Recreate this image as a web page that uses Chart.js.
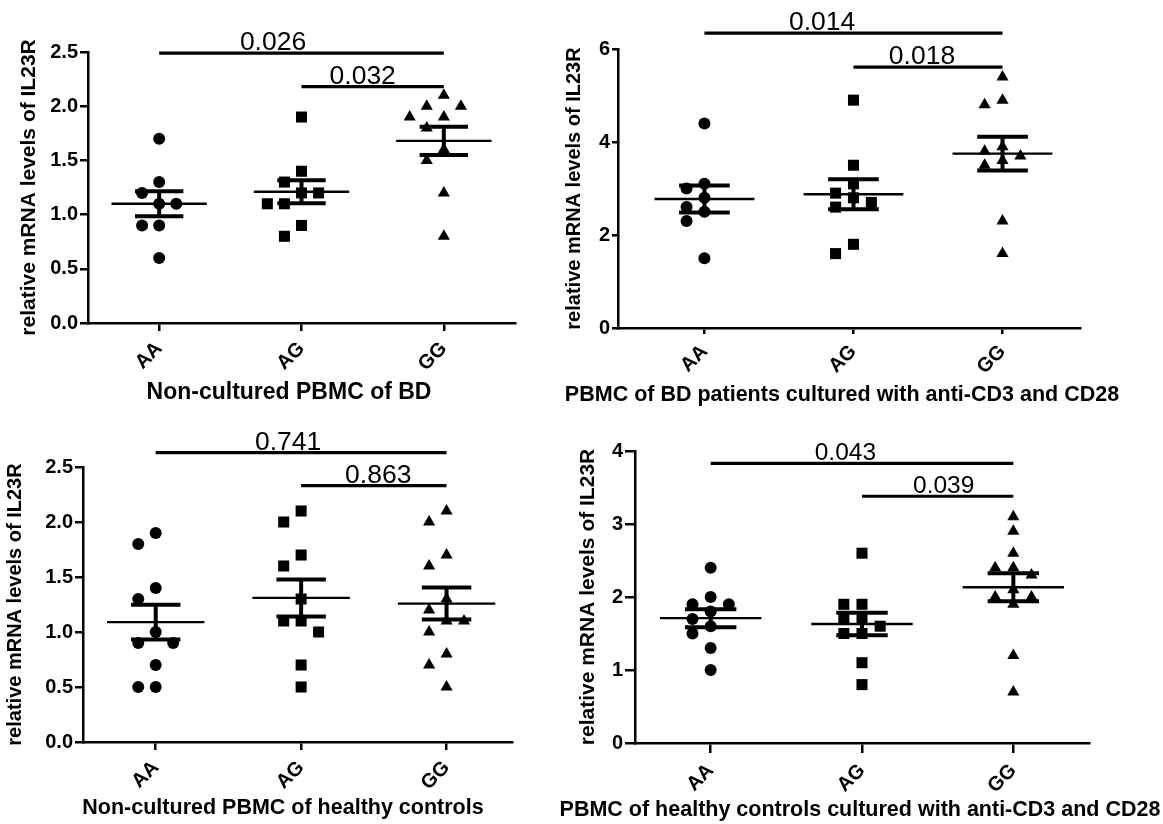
<!DOCTYPE html>
<html>
<head>
<meta charset="utf-8">
<title>IL23R mRNA by genotype</title>
<script src="https://cdn.jsdelivr.net/npm/chart.js@4.4.1/dist/chart.umd.min.js"></script>
<style>
  html, body { margin: 0; padding: 0; background: #fff; }
  body { width: 1163px; height: 824px; position: relative; overflow: hidden; }
  canvas { position: absolute; }
</style>
</head>
<body>
<canvas id="bdFresh" width="560" height="410" style="left:0;top:0"></canvas>
<canvas id="bdStim" width="603" height="410" style="left:560px;top:0"></canvas>
<canvas id="hcFresh" width="560" height="414" style="left:0;top:410px"></canvas>
<canvas id="hcStim" width="603" height="414" style="left:560px;top:410px"></canvas>
<script>
// ===== DATA =====
const genotypes = ['AA', 'AG', 'GG'];

// non-cultured PBMC of BD
const bdFreshAA = [1.7, 1.3, 1.2, 1.1, 1.1, 0.9, 0.9, 0.6];
const bdFreshAG = [1.9, 1.4, 1.3, 1.2, 1.2, 1.1, 1.1, 0.9, 0.8];
const bdFreshGG = [2.1, 2.0, 2.0, 1.9, 1.9, 1.8, 1.6, 1.5, 1.2, 0.8];
const bdFreshP = ['0.026', '0.032'];
const bdFreshTicks = ['0.0', '0.5', '1.0', '1.5', '2.0', '2.5'];

// PBMC of BD patients, anti-CD3/CD28
const bdStimAA = [4.4, 3.1, 3.0, 2.8, 2.6, 2.5, 2.3, 1.5];
const bdStimAG = [4.9, 3.5, 3.1, 2.9, 2.8, 2.7, 2.6, 1.8, 1.6];
const bdStimGG = [5.4, 4.9, 4.8, 3.9, 3.8, 3.7, 3.6, 3.5, 2.3, 1.6];
const bdStimP = ['0.014', '0.018'];
const bdStimTicks = ['0', '2', '4', '6'];

// non-cultured PBMC of healthy controls
const hcFreshAA = [1.9, 1.8, 1.4, 1.3, 1.0, 0.9, 0.9, 0.7, 0.5, 0.5];
const hcFreshAG = [2.1, 2.0, 1.7, 1.6, 1.3, 1.1, 1.1, 1.0, 0.7, 0.5];
const hcFreshGG = [2.1, 2.0, 1.7, 1.6, 1.3, 1.2, 1.1, 1.1, 1.0, 0.8, 0.7, 0.5];
const hcFreshP = ['0.741', '0.863'];
const hcFreshTicks = ['0.0', '0.5', '1.0', '1.5', '2.0', '2.5'];

// PBMC of healthy controls, anti-CD3/CD28
const hcStimAA = [2.4, 2.0, 1.9, 1.9, 1.8, 1.7, 1.6, 1.5, 1.3, 1.0];
const hcStimAG = [2.6, 1.9, 1.9, 1.7, 1.7, 1.6, 1.5, 1.5, 1.1, 0.8];
const hcStimGG = [3.1, 2.9, 2.6, 2.4, 2.4, 2.3, 2.1, 2.0, 2.0, 1.9, 1.2, 0.7];
const hcStimP = ['0.043', '0.039'];
const hcStimTicks = ['0', '1', '2', '3', '4'];

const yTitle = 'relative mRNA levels of IL23R';
const FONT = "'Liberation Sans', Arial, sans-serif";

// ===== HELPERS =====
const markers = [
  { style: 'circle', r: 6 },
  { style: 'rect', r: 7.8 },
  { style: 'triangle', r: 7 }
];

// spread points that would overlap sideways (like a prism scatter)
function spread(values, tol) {
  const placed = [];
  return values.map(v => {
    for (const s of [0, -1, 1, -2, 2, -3, 3]) {
      if (!placed.some(p => p.s === s && Math.abs(p.v - v) < tol)) {
        placed.push({ v, s });
        return s;
      }
    }
    return 0;
  });
}

function meanSem(arr) {
  const n = arr.length;
  const m = arr.reduce((a, b) => a + b, 0) / n;
  const sd = Math.sqrt(arr.reduce((a, b) => a + (b - m) * (b - m), 0) / (n - 1));
  return { m, sem: sd / Math.sqrt(n) };
}

function seg(x1, y1, x2, y2, w) {
  return {
    type: 'scatter', showLine: true, data: [{ x: x1, y: y1 }, { x: x2, y: y2 }],
    borderColor: '#000', borderWidth: w, pointRadius: 0, borderCapStyle: 'butt', order: 0
  };
}

const annotate = {
  id: 'annotate',
  afterDraw(chart, args, o) {
    const { ctx, scales: { x, y } } = chart;
    ctx.save();
    ctx.fillStyle = '#000';
    ctx.strokeStyle = '#000';
    ctx.lineWidth = 3.2;
    o.brackets.forEach(b => {
      const py = y.getPixelForValue(b.level);
      ctx.beginPath();
      ctx.moveTo(x.getPixelForValue(b.from), py);
      ctx.lineTo(x.getPixelForValue(b.to), py);
      ctx.stroke();
      ctx.font = o.pSize + 'px ' + FONT;
      ctx.textAlign = 'center';
      ctx.textBaseline = 'alphabetic';
      ctx.fillText(b.text, x.getPixelForValue(b.at), py - 3);
    });
    ctx.font = 'bold ' + o.titleSize + 'px ' + FONT;
    ctx.textAlign = 'center';
    ctx.textBaseline = 'middle';
    ctx.fillText(o.title, o.titleX, o.titleY);
    ctx.restore();
  }
};

function makePanel(c) {
  const tol = c.yMax * 0.042;
  const datasets = [];
  c.groups.forEach((vals, i) => {
    const slots = spread(vals, tol);
    datasets.push({
      data: vals.map((v, k) => ({ x: i + slots[k] * 0.12, y: v })),
      pointStyle: markers[i].style, pointRadius: markers[i].r,
      backgroundColor: '#000', borderColor: '#000', borderWidth: 0, order: 1
    });
    const { m, sem } = meanSem(vals);
    datasets.push(seg(i - 0.335, m, i + 0.335, m, 2.4));
    datasets.push(seg(i - 0.17, m + sem, i + 0.17, m + sem, 4));
    datasets.push(seg(i - 0.17, m - sem, i + 0.17, m - sem, 4));
    datasets.push(seg(i, m - sem, i, m + sem, 4));
  });

  const axisLine = { color: '#000', width: 2.5 };
  const tickGrid = { drawOnChartArea: false, drawTicks: true, tickLength: c.tickLen, color: '#000', lineWidth: 2.5 };

  new Chart(document.getElementById(c.id), {
    type: 'scatter',
    data: { datasets },
    options: {
      responsive: false, animation: false, devicePixelRatio: 1,
      layout: { padding: { top: c.top, right: c.right, bottom: 0, left: 0 } },
      plugins: {
        legend: { display: false }, tooltip: { enabled: false },
        annotate: {
          brackets: c.brackets, pSize: c.pSize,
          title: c.title, titleSize: c.titleSize, titleX: c.titleX, titleY: c.titleY
        }
      },
      scales: {
        x: {
          type: 'linear', min: c.xMin, max: c.xMax,
          afterBuildTicks: s => { s.ticks = genotypes.map((g, i) => ({ value: i })); },
          afterFit: s => { s.height = c.xH; },
          ticks: {
            callback: v => genotypes[v], autoSkip: false, minRotation: 45, maxRotation: 45,
            color: '#000', padding: 6, font: { family: FONT, size: 20, weight: 'bold' }
          },
          grid: tickGrid, border: axisLine
        },
        y: {
          min: 0, max: c.yMax,
          afterBuildTicks: s => { s.ticks = c.ticks.map(t => ({ value: parseFloat(t) })); },
          afterFit: s => { s.width = c.yW; },
          ticks: {
            callback: (v, i) => c.ticks[i], color: '#000', padding: 2,
            font: { family: FONT, size: 20, weight: 'bold' }
          },
          grid: tickGrid, border: axisLine,
          title: {
            display: true, text: yTitle, color: '#000',
            font: { family: FONT, size: c.yTitleSize, weight: 'bold' },
            padding: { top: c.yTitlePad, bottom: 0 }
          }
        }
      }
    },
    plugins: [annotate]
  });
}

// ===== PANELS =====
makePanel({
  id: 'bdFresh', groups: [bdFreshAA, bdFreshAG, bdFreshGG], ticks: bdFreshTicks, yMax: 2.5,
  xMin: -0.5, xMax: 2.5, top: 52, right: 45, xH: 87, yW: 88, tickLen: 8,
  yTitleSize: 21, yTitlePad: 17,
  brackets: [
    { from: 0, to: 2, level: 2.49, at: 0.8, text: bdFreshP[0] },
    { from: 1, to: 2, level: 2.18, at: 1.43, text: bdFreshP[1] }
  ],
  pSize: 26.5, title: 'Non-cultured PBMC of BD', titleSize: 23, titleX: 289, titleY: 393
});

makePanel({
  id: 'bdStim', groups: [bdStimAA, bdStimAG, bdStimGG], ticks: bdStimTicks, yMax: 6,
  xMin: -0.58, xMax: 2.52, top: 49, right: 83, xH: 82, yW: 58, tickLen: 6,
  yTitleSize: 20, yTitlePad: 2,
  brackets: [
    { from: 0, to: 2, level: 6.34, at: 0.79, text: bdStimP[0] },
    { from: 1, to: 2, level: 5.61, at: 1.46, text: bdStimP[1] }
  ],
  pSize: 26.5, title: 'PBMC of BD patients cultured with anti-CD3 and CD28', titleSize: 21.5, titleX: 282, titleY: 395
});

makePanel({
  id: 'hcFresh', groups: [hcFreshAA, hcFreshAG, hcFreshGG], ticks: hcFreshTicks, yMax: 2.5,
  xMin: -0.5, xMax: 2.45, top: 57, right: 48, xH: 82, yW: 83, tickLen: 8,
  yTitleSize: 20, yTitlePad: 3,
  brackets: [
    { from: 0, to: 2, level: 2.63, at: 0.91, text: hcFreshP[0] },
    { from: 1, to: 2, level: 2.33, at: 1.53, text: hcFreshP[1] }
  ],
  pSize: 26.5, title: 'Non-cultured PBMC of healthy controls', titleSize: 21.5, titleX: 283, titleY: 398
});

makePanel({
  id: 'hcStim', groups: [hcStimAA, hcStimAG, hcStimGG], ticks: hcStimTicks, yMax: 4,
  xMin: -0.5, xMax: 2.5, top: 41, right: 74, xH: 81, yW: 75, tickLen: 10,
  yTitleSize: 21, yTitlePad: 16,
  brackets: [
    { from: 0, to: 2, level: 3.83, at: 0.89, text: hcStimP[0] },
    { from: 1, to: 2, level: 3.38, at: 1.54, text: hcStimP[1] }
  ],
  pSize: 24.5, title: 'PBMC of healthy controls cultured with anti-CD3 and CD28', titleSize: 21.5, titleX: 300, titleY: 400
});
</script>
</body>
</html>
